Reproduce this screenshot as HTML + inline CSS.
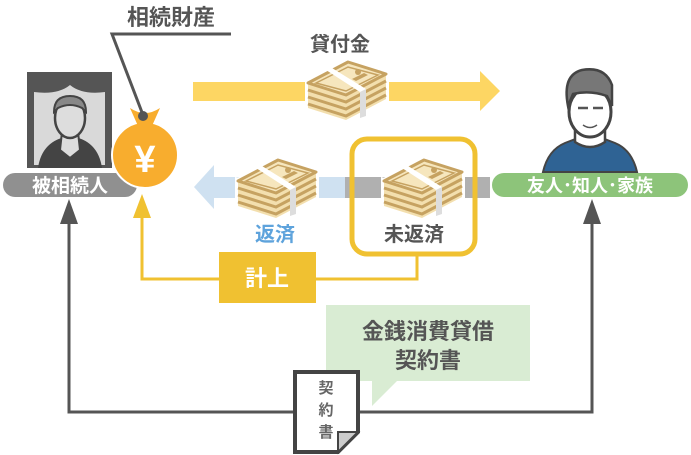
<!DOCTYPE html>
<html><head><meta charset="utf-8"><style>
html,body{margin:0;padding:0;background:#fff;}
svg{display:block;font-family:"Liberation Sans","Noto Sans CJK JP",sans-serif;font-weight:bold;}
</style></head><body>
<svg width="691" height="455" viewBox="0 0 691 455" xmlns="http://www.w3.org/2000/svg">
<defs>
<g id="money">
  <polygon points="0,23 40,2 78,14 38,35" fill="#fff" stroke="#fff" stroke-width="6" stroke-linejoin="round"/>
  <polygon points="0,23 38,35 38,60 0,48" fill="#fff" stroke="#fff" stroke-width="6"/>
  <polygon points="38,35 78,14 78,39 38,60" fill="#fff" stroke="#fff" stroke-width="6"/>
  <polygon points="0,23 38,35 38,60 0,48" fill="#f3dfae"/>
  <polygon points="38,35 78,14 78,39 38,60" fill="#f3dfae"/>
  <g stroke="#c6a261" stroke-width="3">
    <polyline points="0,30 38,42 78,21" fill="none"/>
    <polyline points="0,37 38,49 78,28" fill="none"/>
    <polyline points="0,44 38,56 78,35" fill="none"/>
  </g>
  <polygon points="0,23 40,2 78,14 38,35" fill="#f6e6bd" stroke="#c6a261" stroke-width="3" stroke-linejoin="round"/>
  <polygon points="8,23 40,7 70,15 38,31" fill="none" stroke="#c6a261" stroke-width="1.5"/>
  <circle cx="50" cy="12" r="3" fill="#c6a261"/>
  <polygon points="44,19 56,13 60,15 48,21" fill="#c6a261"/>
  <polygon points="52,32 58,29 58,56 52,58" fill="#ddd"/>
  <polygon points="18,10 24,8 58,29 52,32" fill="#fff"/>
</g>
</defs>

<text x="171" y="25" font-size="22" fill="#555" text-anchor="middle">相続財産</text>
<polyline points="231,34 112,34 143,115" fill="none" stroke="#555" stroke-width="3"/>

<rect x="27" y="72" width="85" height="96" fill="#555"/>
<rect x="34" y="79" width="71" height="86" fill="#d9d9d9"/>
<path d="M34,79 L105,79 L105,92 Q82,95 70,85 Q58,95 34,92Z" fill="#555"/>
<path d="M38,168 Q42,140 70,136 Q98,140 102,168Z" fill="#444"/>
<path d="M62,132 L78,132 L80,150 L70,158 L60,150Z" fill="#ddd" stroke="#444" stroke-width="2"/>
<ellipse cx="70" cy="118" rx="15" ry="20" fill="#ddd" stroke="#444" stroke-width="2.5"/>
<path d="M54,112 Q54,96 70,96 Q86,96 86,112 L82,108 Q70,102 58,108Z" fill="#888" stroke="#444" stroke-width="2"/>
<rect x="3" y="173" width="134" height="24" rx="12" fill="#909090"/>
<text x="70" y="192" font-size="19" fill="#fff" text-anchor="middle">被相続人</text>

<circle cx="145" cy="155" r="33" fill="#f8ad2e" stroke="#fff" stroke-width="2"/>
<path d="M130,108 Q145,118 160,108 L152,126 L138,126Z" fill="#f8ad2e"/>
<circle cx="143" cy="116" r="5" fill="#555"/>
<text x="145" y="172" font-size="38" fill="#fff" text-anchor="middle">¥</text>

<rect x="193" y="82" width="290" height="19" fill="#fdd663"/>
<polygon points="480,71 500,91 480,111" fill="#fdd663"/>
<text x="340" y="51" font-size="20" fill="#555" text-anchor="middle">貸付金</text>
<use href="#money" x="308" y="60"/>

<path d="M543,172 Q548,150 565,143 L578,138 Q590,148 602,138 L615,143 Q632,150 637,172Z" fill="#2f6394" stroke="#444" stroke-width="2"/>
<path d="M575,128 L575,142 Q590,152 605,142 L605,128Z" fill="#fff" stroke="#444" stroke-width="2.5"/>
<ellipse cx="590" cy="112" rx="21" ry="25" fill="#fff" stroke="#444" stroke-width="3"/>
<path d="M568,106 Q562,75 582,70 Q605,66 612,85 L612,106 L607,96 Q590,90 573,94Z" fill="#777" stroke="#444" stroke-width="2.5"/>
<path d="M578,108 h10 M593,108 h10" stroke="#555" stroke-width="2.5"/>
<path d="M583,125 Q590,130 597,125" stroke="#555" stroke-width="1.5" fill="none"/>
<rect x="492" y="173" width="196" height="24" rx="12" fill="#8dc47a"/>
<text x="590" y="192" font-size="18" fill="#fff" text-anchor="middle">友人･知人･家族</text>

<rect x="345" y="177" width="145" height="21" fill="#b0b0b0"/>
<rect x="212" y="177" width="133" height="21" fill="#cfe1f1"/>
<polygon points="214,165 194,187 214,209" fill="#cfe1f1"/>
<use href="#money" x="238" y="158"/>
<text x="275" y="241" font-size="20" fill="#5ea3dc" text-anchor="middle">返済</text>

<rect x="352" y="139" width="123" height="115" rx="15" fill="none" stroke="#f0c131" stroke-width="5"/>
<use href="#money" x="384" y="158"/>
<text x="414" y="241" font-size="20" fill="#555" text-anchor="middle">未返済</text>

<polyline points="417,256 417,279 142,279 142,215" fill="none" stroke="#f0c131" stroke-width="3"/>
<polygon points="133,218 142,194 151,218" fill="#f0c131"/>
<rect x="219" y="252" width="97" height="51" fill="#f0c131"/>
<text x="267" y="286" font-size="22" fill="#fff" text-anchor="middle">計上</text>

<polyline points="69,220 69,412 592,412 592,220" fill="none" stroke="#555" stroke-width="3"/>
<polygon points="60,224 69,199 78,224" fill="#555"/>
<polygon points="583,224 592,199 601,224" fill="#555"/>

<rect x="326" y="305" width="204" height="76" fill="#d9ecd3"/>
<polygon points="372,380 398,380 372,406" fill="#d9ecd3"/>
<text x="428" y="339" font-size="22" fill="#555" text-anchor="middle">金銭消費貸借</text>
<text x="428" y="368" font-size="22" fill="#555" text-anchor="middle">契約書</text>

<path d="M295,372 L358,372 L358,432 L338,452 L295,452Z" fill="#fff" stroke="#444" stroke-width="4"/>
<polygon points="338,452 338,432 358,432" fill="#ccc" stroke="#444" stroke-width="2"/>
<g font-size="15" fill="#666" text-anchor="middle">
<text x="326" y="393">契</text><text x="326" y="415">約</text><text x="326" y="437">書</text>
</g>
</svg>
</body></html>
